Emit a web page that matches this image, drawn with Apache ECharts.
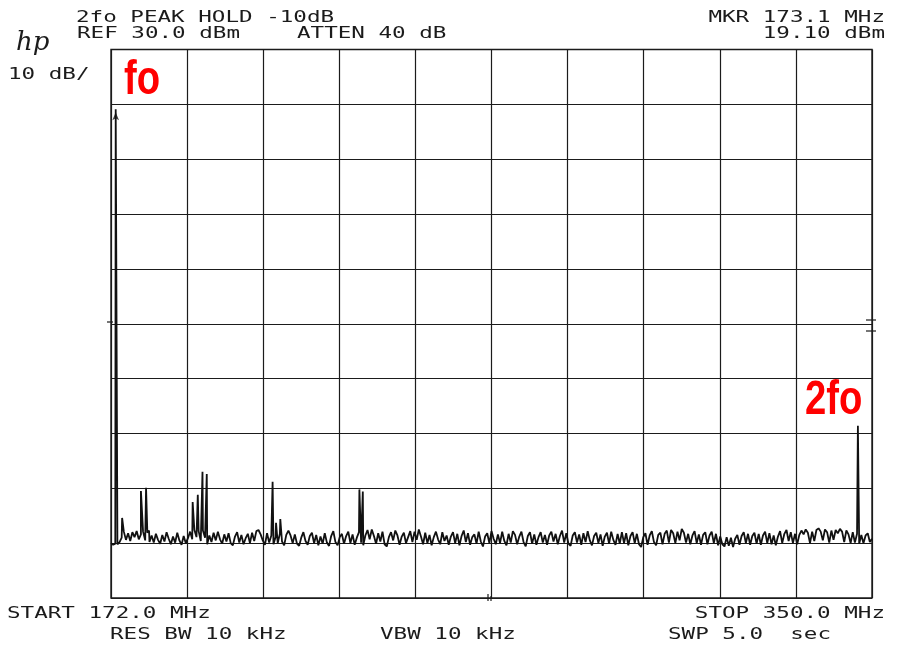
<!DOCTYPE html>
<html>
<head>
<meta charset="utf-8">
<script src="https://cdn.jsdelivr.net/npm/echarts@6/dist/echarts.min.js"></script>
<style>
html,body{margin:0;padding:0;background:#fff;}
#chart{width:900px;height:651px;}
</style>
</head>
<body>
<div id="chart"></div>
<script>
// ---- Data ----
const freqStart = 172.0;   // MHz
const freqStop = 350.0;    // MHz
const freqStep = 0.5;      // MHz between noise-floor samples
const refLevel = 30;       // dBm (top of screen)
const bottomLevel = -70;   // dBm (bottom of screen)
const dbPerDiv = 10;

// noise floor samples, dBm, every 0.5 MHz from 172.0 MHz
const noiseRows = [
  [-60.0,-60.3,-60.1,-60.2,-59.8,-59.0,-57.9,-59.4,-58.2,-59.6,-58.0,-58.9,-57.8,-59.3,-58.4,-57.9,-59.5,-58.1,-59.8,-58.6],
  [-59.9,-58.3,-59.4,-60.1,-58.5,-59.7,-58.0,-59.2,-60.2,-58.8,-59.9,-58.1,-59.5,-60.3,-58.7,-60.0,-59.1,-57.9,-59.3,-57.6],
  [-58.9,-57.8,-59.6,-57.7,-59.0,-60.2,-58.6,-59.8,-58.1,-59.5,-57.9,-59.3,-60.1,-58.4,-59.7,-58.2,-60.0,-60.4,-58.8,-58.0],
  [-59.9,-58.5,-60.2,-59.1,-58.3,-60.0,-58.1,-59.6,-57.8,-57.6,-58.4,-59.5,-60.3,-58.2,-59.9,-58.6,-60.2,-58.9,-60.0,-58.3],
  [-59.7,-60.4,-58.5,-57.7,-58.6,-60.0,-58.4,-60.1,-60.5,-59.0,-58.0,-59.6,-60.3,-58.7,-58.1,-60.0,-58.5,-60.4,-58.8,-60.1],
  [-58.2,-59.9,-60.5,-58.7,-57.8,-59.8,-60.4,-58.9,-58.3,-60.1,-58.7,-57.9,-60.0,-58.4,-60.3,-59.0,-58.0,-59.9,-60.4,-58.6],
  [-57.6,-59.3,-57.5,-58.7,-60.1,-58.2,-59.7,-57.9,-60.2,-60.6,-58.9,-58.0,-59.5,-57.7,-58.6,-60.3,-58.8,-58.1,-60.0,-58.9],
  [-57.8,-59.8,-57.9,-59.4,-57.5,-58.8,-60.2,-58.1,-60.0,-58.5,-60.4,-58.9,-57.9,-59.3,-60.2,-58.0,-59.6,-58.6,-60.3,-58.8],
  [-58.0,-60.0,-58.3,-60.4,-58.7,-57.7,-59.8,-58.2,-60.3,-58.9,-58.4,-60.1,-57.9,-59.7,-60.6,-58.8,-58.2,-60.0,-57.8,-59.2],
  [-60.2,-58.4,-60.0,-57.9,-59.6,-60.4,-58.3,-59.9,-57.8,-58.5,-60.2,-58.8,-57.9,-59.8,-60.6,-58.7,-58.0,-60.1,-58.4,-60.3],
  [-58.9,-58.0,-59.9,-58.5,-60.3,-58.6,-57.9,-59.7,-58.3,-60.2,-58.7,-57.7,-59.9,-58.2,-60.1,-60.5,-58.6,-58.0,-59.9,-58.4],
  [-60.3,-58.2,-59.8,-57.8,-59.5,-60.4,-58.7,-58.1,-60.0,-58.4,-60.5,-58.8,-58.1,-60.1,-57.9,-59.4,-60.3,-58.3,-60.1,-58.0],
  [-60.0,-58.2,-60.4,-58.7,-58.0,-60.0,-58.3,-60.2,-60.7,-58.9,-58.2,-60.3,-58.6,-57.8,-59.8,-60.4,-58.5,-58.1,-60.2,-58.3],
  [-57.7,-59.9,-57.6,-58.2,-60.0,-57.9,-59.5,-57.4,-58.1,-59.9,-58.3,-60.2,-58.6,-57.8,-60.0,-58.4,-60.3,-58.5,-58.0,-60.2],
  [-58.6,-57.9,-60.0,-58.3,-60.4,-58.8,-60.2,-60.6,-58.9,-60.5,-59.0,-60.7,-59.2,-58.5,-60.3,-58.7,-58.0,-60.0,-58.3,-60.3],
  [-58.7,-58.1,-60.1,-58.3,-60.3,-58.6,-57.9,-60.0,-58.2,-60.2,-58.6,-60.4,-58.8,-57.8,-60.0,-58.3,-57.6,-59.6,-58.0,-60.0],
  [-58.3,-60.2,-58.5,-57.7,-58.4,-57.5,-58.1,-60.0,-57.9,-59.6,-57.6,-57.3,-57.9,-59.5,-57.5,-58.0,-59.9,-57.7,-59.4,-57.6],
  [-58.2,-57.4,-57.9,-59.8,-57.7,-58.4,-60.0,-58.0,-59.9,-58.3,-60.1,-58.5,-60.0,-58.6,-58.2,-59.8,-59.2]
];

// discrete signals: [frequency MHz, level dBm]
const spikes = [
  [173.1, 19.1],   // fo
  [174.6, -55.4],
  [179.0, -50.5],
  [180.2, -49.9],
  [180.9, -57.7],
  [191.1, -52.5],
  [192.3, -51.2],
  [193.4, -47.0],
  [194.4, -47.4],
  [209.8, -48.8],
  [210.6, -56.3],
  [211.6, -55.6],
  [230.1, -50.2],
  [230.9, -50.6],
  [346.7, -38.6]   // 2fo
];

const marker = [173.1, 19.1];

const headerLeft = ['2fo PEAK HOLD -10dB', 'REF 30.0 dBm'];
const headerMid = 'ATTEN 40 dB';
const headerRight = ['MKR 173.1 MHz', '19.10 dBm'];
const scaleLabel = '10 dB/';
const footer = {start: 'START 172.0 MHz', stop: 'STOP 350.0 MHz', rbw: 'RES BW 10 kHz', vbw: 'VBW 10 kHz', swp: 'SWP 5.0  sec'};
const annotations = {fo: 'fo', twoFo: '2fo'};

// ---- Build trace ----
const noiseLevel = noiseRows.flat();
const trace = noiseLevel.map((v, i) => [freqStart + i * freqStep, v]);
spikes.forEach(s => trace.push(s));
trace.sort((a, b) => a[0] - b[0]);

const chart = echarts.init(document.getElementById('chart'), null, {renderer: 'canvas'});
const ink = '#1b1b1b';
const mono = '16px "DejaVu Sans Mono"';
const sx = 1.41;
function t(text, x, y, align) {
  return {type: 'text', x: x, y: y, scaleX: sx, silent: true,
    style: {text: text, font: mono, fill: ink, align: align || 'left', verticalAlign: 'middle'}};
}
function seg(x1, y1, x2, y2) {
  return {type: 'line', silent: true, shape: {x1: x1, y1: y1, x2: x2, y2: y2},
    style: {stroke: ink, lineWidth: 1.2}};
}

chart.setOption({
  animation: false,
  backgroundColor: '#ffffff',
  grid: {left: 111, right: 28, top: 49.5, bottom: 53, show: true, borderColor: ink, borderWidth: 1.4, backgroundColor: 'transparent'},
  xAxis: [
    {type: 'value', min: freqStart, max: freqStop, show: false},
    {type: 'value', min: 0, max: 10, interval: 1, position: 'bottom',
     axisLine: {show: false}, axisTick: {show: false}, axisLabel: {show: false},
     splitLine: {show: true, lineStyle: {color: ink, width: 1.2}}}
  ],
  yAxis: {type: 'value', min: bottomLevel, max: refLevel, interval: dbPerDiv,
    axisLine: {show: false}, axisTick: {show: false}, axisLabel: {show: false},
    splitLine: {show: true, lineStyle: {color: ink, width: 1.2}}},
  series: [
    {type: 'line', xAxisIndex: 0, data: trace, showSymbol: false, smooth: false,
     lineStyle: {color: '#111', width: 1.8}, z: 3},
    {type: 'scatter', xAxisIndex: 0, data: [marker], symbol: 'arrow', symbolSize: [5, 8],
     symbolOffset: [0, 3], itemStyle: {color: '#111'}, z: 4}
  ],
  graphic: [
    t(headerLeft[0], 76, 17.5),
    t(headerLeft[1], 77, 33.5),
    t(headerMid, 297, 33.5),
    t(headerRight[0], 885, 17.5, 'right'),
    t(headerRight[1], 885, 33.5, 'right'),
    t(scaleLabel, 8, 75),
    t(footer.start, 7, 614),
    t(footer.stop, 885, 614, 'right'),
    t(footer.rbw, 110, 635),
    t(footer.vbw, 380, 635),
    t(footer.swp, 668, 635),
    {type: 'text', x: 16, y: 43, silent: true,
     style: {text: 'hp', font: 'italic 26px "DejaVu Serif"', fill: ink, align: 'left', verticalAlign: 'middle'}},
    {type: 'text', x: 124, y: 80, scaleX: 0.78, silent: true,
     style: {text: annotations.fo, font: 'bold 49px "Liberation Sans"', fill: '#ff0000', align: 'left', verticalAlign: 'middle'}},
    {type: 'text', x: 805, y: 400, scaleX: 0.78, silent: true,
     style: {text: annotations.twoFo, font: 'bold 49px "Liberation Sans"', fill: '#ff0000', align: 'left', verticalAlign: 'middle'}},
    seg(866, 320, 876, 320),
    seg(866, 331, 876, 331),
    seg(107, 322, 113, 322),
    seg(488, 594, 488, 601),
    seg(491, 596, 491, 601)
  ]
});
</script>
</body>
</html>
